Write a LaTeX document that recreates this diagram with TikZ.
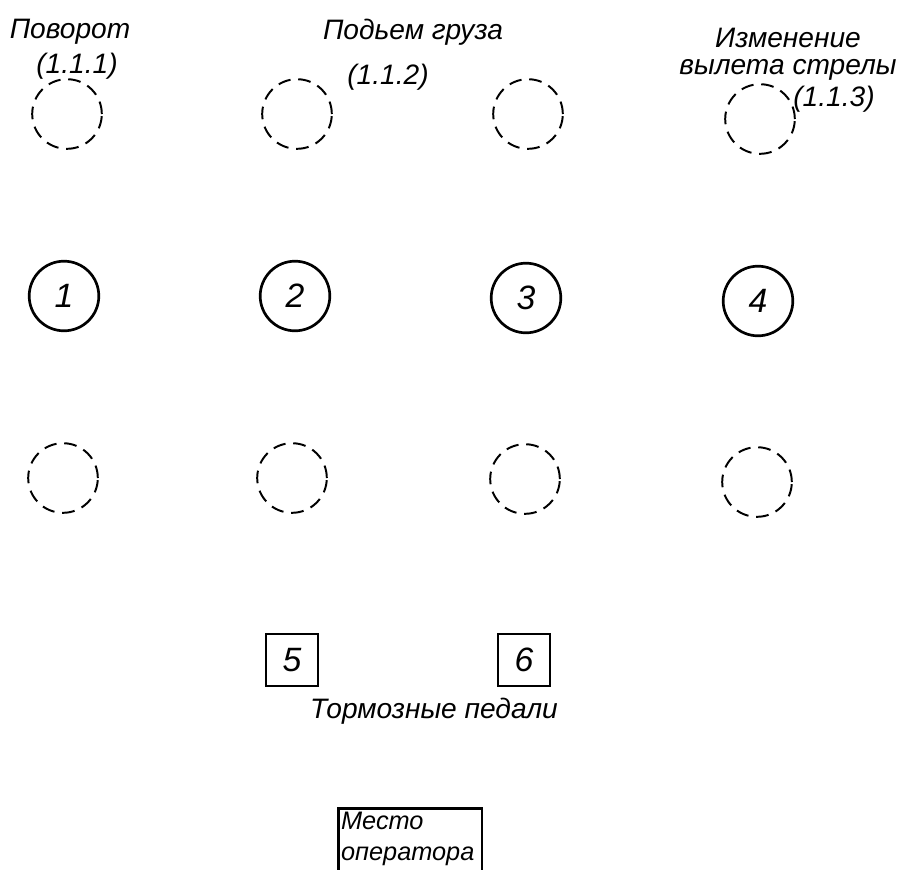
\documentclass[tikz,border=0pt]{standalone}
\usepackage{fontspec}
\setmainfont{Liberation Sans}
\usetikzlibrary{positioning}
\tikzstyle{knob}    = [circle, draw, line width=1.9pt, minimum size=1.74cm,
                       inner sep=0pt, font=\fontsize{24}{26}\selectfont\itshape]
\tikzstyle{spare}   = [circle, draw, line width=1.4pt, minimum size=1.74cm,
                       inner sep=0pt, dash pattern=on 9pt off 5.5pt]
\tikzstyle{pedal}   = [rectangle, draw, line width=1.9pt, minimum size=1.3cm,
                       inner sep=0pt, font=\fontsize{24}{26}\selectfont\itshape]
\tikzstyle{caption} = [inner sep=0pt, align=center,
                       font=\fontsize{20}{19}\selectfont\itshape]

\begin{document}
\begin{tikzpicture}[x=0.025cm, y=-0.025cm]
  \useasboundingbox (0,0) rectangle (906,869);

  %% Spare positions, top row
  \node[spare] (up1) at (67,114) {};
  \node[spare] (up2) at (297,114) {};
  \node[spare] (up3) at (528,114) {};
  \node[spare] (up4) at (760,119) {};

  %% Control levers
  \node[knob] (lever1) at (64,296) {1};
  \node[knob] (lever2) at (295,296) {2};
  \node[knob] (lever3) at (526,298) {3};
  \node[knob] (lever4) at (758,301) {4};

  %% Spare positions, bottom row
  \node[spare] (low1) at (63,478) {};
  \node[spare] (low2) at (292,478) {};
  \node[spare] (low3) at (525,479) {};
  \node[spare] (low4) at (757,482) {};

  %% Brake pedals
  \node[pedal] (brake5) at (292,660) {5};
  \node[pedal] (brake6) at (524,660) {6};
  \node[caption] (brakes) at (434,711) {Тормозные педали};

  %% Operator seat
  \node[draw, line width=1.9pt, anchor=north west, text depth=1.2cm,
        text width=3.45cm, align=left, inner xsep=2pt, inner ysep=3pt,
        font=\fontsize{18}{22}\selectfont\itshape] (seat)
        at (337,807) {Место\\оператора};

  %% Captions
  \node[caption] (turn) at (70,32) {Поворот};
  \node[caption] (turnno) at (77,66) {(1.1.1)};
  \node[caption] (lift) at (413,32) {Подьем груза};
  \node[caption] (liftno) at (388,77) {(1.1.2)};
  \node[caption] (reach) at (788,54) {Изменение\\вылета стрелы};
  \node[caption] (reachno) at (834,99) {(1.1.3)};

\end{tikzpicture}
\end{document}
